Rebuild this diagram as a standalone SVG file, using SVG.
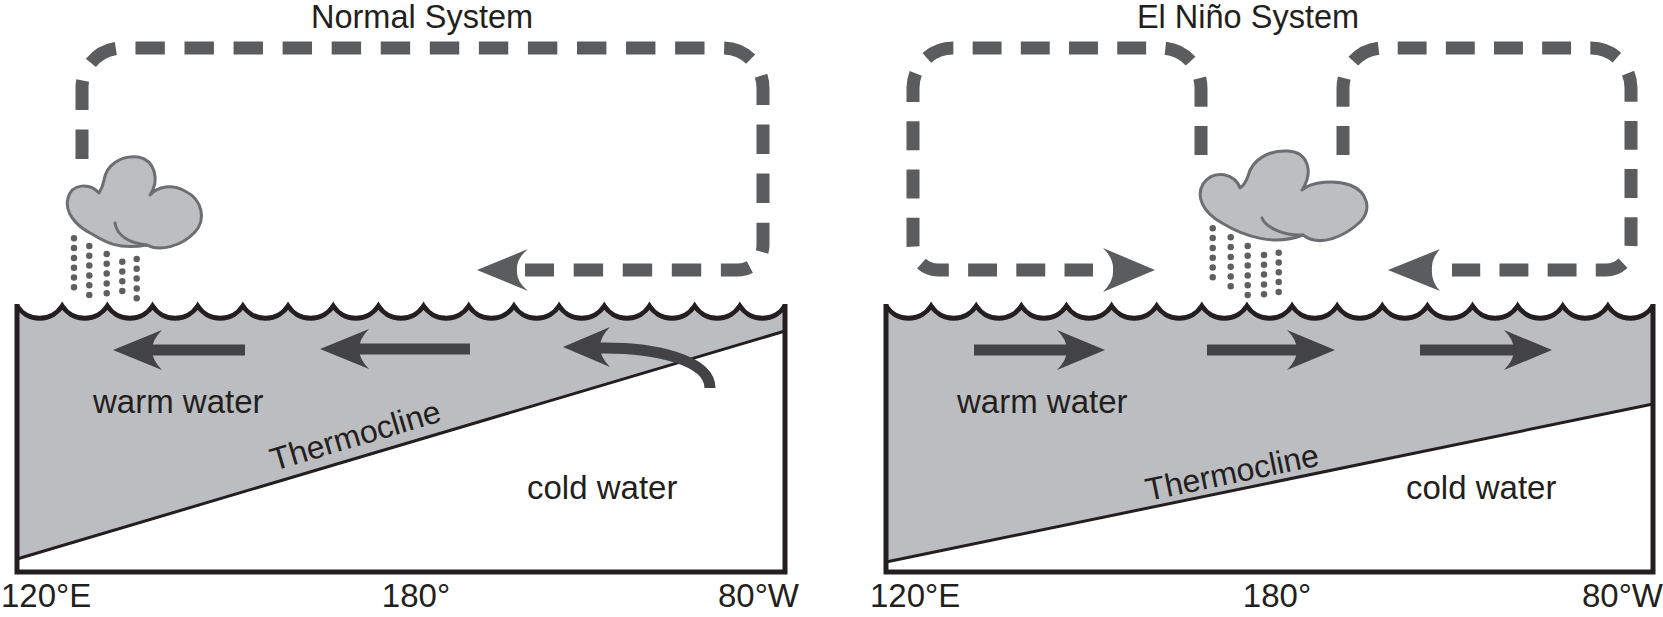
<svg xmlns="http://www.w3.org/2000/svg" width="1663" height="617" viewBox="0 0 1663 617">
<style>
 text { font-family: "Liberation Sans", Arial, sans-serif; fill: #231f20; }
 .title { font-size: 32.5px; text-anchor: middle; }
 .lbl { font-size: 33px; }
 .mid { text-anchor: middle; }
 .end { text-anchor: end; }
 .water { fill: #bcbdc0; stroke: none; }
 .wave { fill: none; stroke: #231f20; stroke-width: 5; stroke-linejoin: miter; }
 .box { fill: none; stroke: #231f20; stroke-width: 5; stroke-linejoin: miter; }
 .thermo { stroke: #231f20; stroke-width: 3; }
 .loop { fill: none; stroke: #5b5c5e; stroke-width: 13; }
 .loophead { fill: #5b5c5e; }
 .flow { fill: none; stroke: #434244; stroke-width: 11; }
 .flowhead { fill: #434244; }
 .cloud { fill: #bdbec0; stroke: #6d6e71; stroke-width: 3; stroke-linejoin: round; }
 .cloudline { fill: none; stroke: #6d6e71; stroke-width: 3; stroke-linecap: round; }
 .rain { stroke: #5e5f61; stroke-width: 6.5; stroke-linecap: round; stroke-dasharray: 0 9.8; }
</style>

<g id="normal-title"><text class="title" x="422" y="28">Normal System</text></g>
<g id="nino-title"><text class="title" x="1248" y="28">El Niño System</text></g>

<!-- Normal ocean -->
<g id="normal-ocean">
 <path class="water" d="M17 306 a27 27 0 0 0 45.176 0 a27 27 0 0 0 45.176 0 a27 27 0 0 0 45.176 0 a27 27 0 0 0 45.176 0 a27 27 0 0 0 45.176 0 a27 27 0 0 0 45.176 0 a27 27 0 0 0 45.176 0 a27 27 0 0 0 45.176 0 a27 27 0 0 0 45.176 0 a27 27 0 0 0 45.176 0 a27 27 0 0 0 45.176 0 a27 27 0 0 0 45.176 0 a27 27 0 0 0 45.176 0 a27 27 0 0 0 45.176 0 a27 27 0 0 0 45.176 0 a27 27 0 0 0 45.176 0 a27 27 0 0 0 45.176 0 L785 331 L17 559 Z"/>
 <line class="thermo" x1="17" y1="559" x2="785" y2="331"/>
 <path class="wave" d="M17 306 a27 27 0 0 0 45.176 0 a27 27 0 0 0 45.176 0 a27 27 0 0 0 45.176 0 a27 27 0 0 0 45.176 0 a27 27 0 0 0 45.176 0 a27 27 0 0 0 45.176 0 a27 27 0 0 0 45.176 0 a27 27 0 0 0 45.176 0 a27 27 0 0 0 45.176 0 a27 27 0 0 0 45.176 0 a27 27 0 0 0 45.176 0 a27 27 0 0 0 45.176 0 a27 27 0 0 0 45.176 0 a27 27 0 0 0 45.176 0 a27 27 0 0 0 45.176 0 a27 27 0 0 0 45.176 0 a27 27 0 0 0 45.176 0"/>
 <path class="box" d="M17 304 L17 572 L785 572 L785 304"/>
 <text class="lbl" x="93" y="413">warm water</text>
 <text class="lbl" x="527" y="499">cold water</text>
 <text class="lbl" transform="translate(274 471) rotate(-16.5)" style="font-size:32px">Thermocline</text>
 <text class="lbl" x="1" y="607">120°E</text>
 <text class="lbl mid" x="416" y="607">180°</text>
 <text class="lbl end" x="799" y="607">80°W</text>
</g>

<!-- El Nino ocean -->
<g id="nino-ocean">
 <path class="water" d="M886 306 a27 27 0 0 0 45.118 0 a27 27 0 0 0 45.118 0 a27 27 0 0 0 45.118 0 a27 27 0 0 0 45.118 0 a27 27 0 0 0 45.118 0 a27 27 0 0 0 45.118 0 a27 27 0 0 0 45.118 0 a27 27 0 0 0 45.118 0 a27 27 0 0 0 45.118 0 a27 27 0 0 0 45.118 0 a27 27 0 0 0 45.118 0 a27 27 0 0 0 45.118 0 a27 27 0 0 0 45.118 0 a27 27 0 0 0 45.118 0 a27 27 0 0 0 45.118 0 a27 27 0 0 0 45.118 0 a27 27 0 0 0 45.118 0 L1653 404 L886 562 Z"/>
 <line class="thermo" x1="886" y1="562" x2="1653" y2="404"/>
 <path class="wave" d="M886 306 a27 27 0 0 0 45.118 0 a27 27 0 0 0 45.118 0 a27 27 0 0 0 45.118 0 a27 27 0 0 0 45.118 0 a27 27 0 0 0 45.118 0 a27 27 0 0 0 45.118 0 a27 27 0 0 0 45.118 0 a27 27 0 0 0 45.118 0 a27 27 0 0 0 45.118 0 a27 27 0 0 0 45.118 0 a27 27 0 0 0 45.118 0 a27 27 0 0 0 45.118 0 a27 27 0 0 0 45.118 0 a27 27 0 0 0 45.118 0 a27 27 0 0 0 45.118 0 a27 27 0 0 0 45.118 0 a27 27 0 0 0 45.118 0"/>
 <path class="box" d="M886 304 L886 572 L1653 572 L1653 304"/>
 <text class="lbl" x="957" y="413">warm water</text>
 <text class="lbl" x="1406" y="499">cold water</text>
 <text class="lbl" transform="translate(1148 501) rotate(-11.67)" style="font-size:32px">Thermocline</text>
 <text class="lbl" x="870" y="607">120°E</text>
 <text class="lbl mid" x="1277" y="607">180°</text>
 <text class="lbl end" x="1663" y="607">80°W</text>
</g>

<!-- Clouds -->
<g id="normal-cloud">
 <path class="cloud" d="M99 193 C90 183 72 183 68 198 C64 212 76 226 92 234 C105 242 118 250 147 245 C160 252 182 246 195 232 C206 220 203 200 185 191 C172 184 158 186 150 195 C160 180 155 160 138 157 C120 155 106 166 104 180 C103 186 101 190 99 193 Z"/>
 <path class="cloudline" d="M115 223 C117 236 130 243 147 245"/>
 <line class="rain" x1="74" y1="238.3" x2="74" y2="287.5"/>
 <line class="rain" x1="89.3" y1="246" x2="89.3" y2="295.5"/>
 <line class="rain" x1="106.7" y1="254" x2="106.7" y2="293.5"/>
 <line class="rain" x1="122.3" y1="261.7" x2="122.3" y2="291.6"/>
 <line class="rain" x1="136.7" y1="259" x2="136.7" y2="298.5"/>
</g>
<g id="nino-cloud">
 <path class="cloud" d="M1240 188 C1236 174 1214 168 1203 184 C1196 196 1202 212 1222 223 C1245 237 1275 246 1303 235 C1320 248 1345 236 1360 222 C1372 210 1368 192 1350 185 C1335 180 1312 181 1302 190 C1314 172 1308 152 1288 151 C1268 150 1252 160 1248 176 C1246 182 1243 186 1240 188 Z"/>
 <path class="cloudline" d="M1262 218 C1266 228 1285 236 1303 235"/>
 <line class="rain" x1="1212.7" y1="228.3" x2="1212.7" y2="277.5"/>
 <line class="rain" x1="1230.7" y1="237.3" x2="1230.7" y2="286.5"/>
 <line class="rain" x1="1247.7" y1="246" x2="1247.7" y2="295.5"/>
 <line class="rain" x1="1264" y1="255" x2="1264" y2="294.5"/>
 <line class="rain" x1="1278.7" y1="252.7" x2="1278.7" y2="292.2"/>
</g>

<!-- Connectors: atmospheric circulation and ocean currents -->
<g id="connectors">
 <path class="loop" style="stroke-dasharray:29.4 19.66" d="M82 159 L82 88 A40 40 0 0 1 122 48 L723 48 A40 40 0 0 1 763 88 L763 245 A25 25 0 0 1 738 270 L525 270"/>
 <path class="loophead" d="M477 270 L528 249 Q516 259 517 270 Q516 281 528 291 Z"/>

 <path class="loop" style="stroke-dasharray:28.9 19.3" d="M1201 155 L1201 88 A40 40 0 0 0 1161 48 L953 48 A40 40 0 0 0 913 88 L913 245 A25 25 0 0 0 938 270 L1093 270"/>
 <path class="loophead" d="M1155 270 L1103 248 Q1114 259 1113 270 Q1114 281 1103 292 Z"/>

 <path class="loop" style="stroke-dasharray:28.9 19.25" d="M1343 155 L1343 88 A40 40 0 0 1 1383 48 L1591 48 A40 40 0 0 1 1631 88 L1631 245 A25 25 0 0 1 1606 270 L1452 270"/>
 <path class="loophead" d="M1388 270 L1440 249 Q1431 259 1432 270 Q1431 281 1440 291 Z"/>

 <line class="flow" x1="245" y1="350" x2="150" y2="350"/>
 <path class="flowhead" d="M113 350 L162 330 Q152 340 152 350 Q152 360 162 370 Z"/>
 <line class="flow" x1="470" y1="349" x2="357" y2="349"/>
 <path class="flowhead" d="M320 349 L369 329 Q359 339 359 349 Q359 359 369 369 Z"/>
 <path class="flow" d="M710 388 C710 360 655 347 598 348"/>
 <path class="flowhead" d="M563 347 L610 327 Q600 337 600 347 Q600 357 610 367 Z"/>

 <line class="flow" x1="974" y1="350" x2="1068" y2="350"/>
 <path class="flowhead" d="M1105 350 L1057 330 Q1067 340 1067 350 Q1067 360 1057 370 Z"/>
 <line class="flow" x1="1207" y1="350" x2="1298" y2="350"/>
 <path class="flowhead" d="M1335 350 L1287 330 Q1297 340 1297 350 Q1297 360 1287 370 Z"/>
 <line class="flow" x1="1420" y1="350" x2="1515" y2="350"/>
 <path class="flowhead" d="M1552 350 L1504 330 Q1514 340 1514 350 Q1514 360 1504 370 Z"/>
</g>
</svg>
